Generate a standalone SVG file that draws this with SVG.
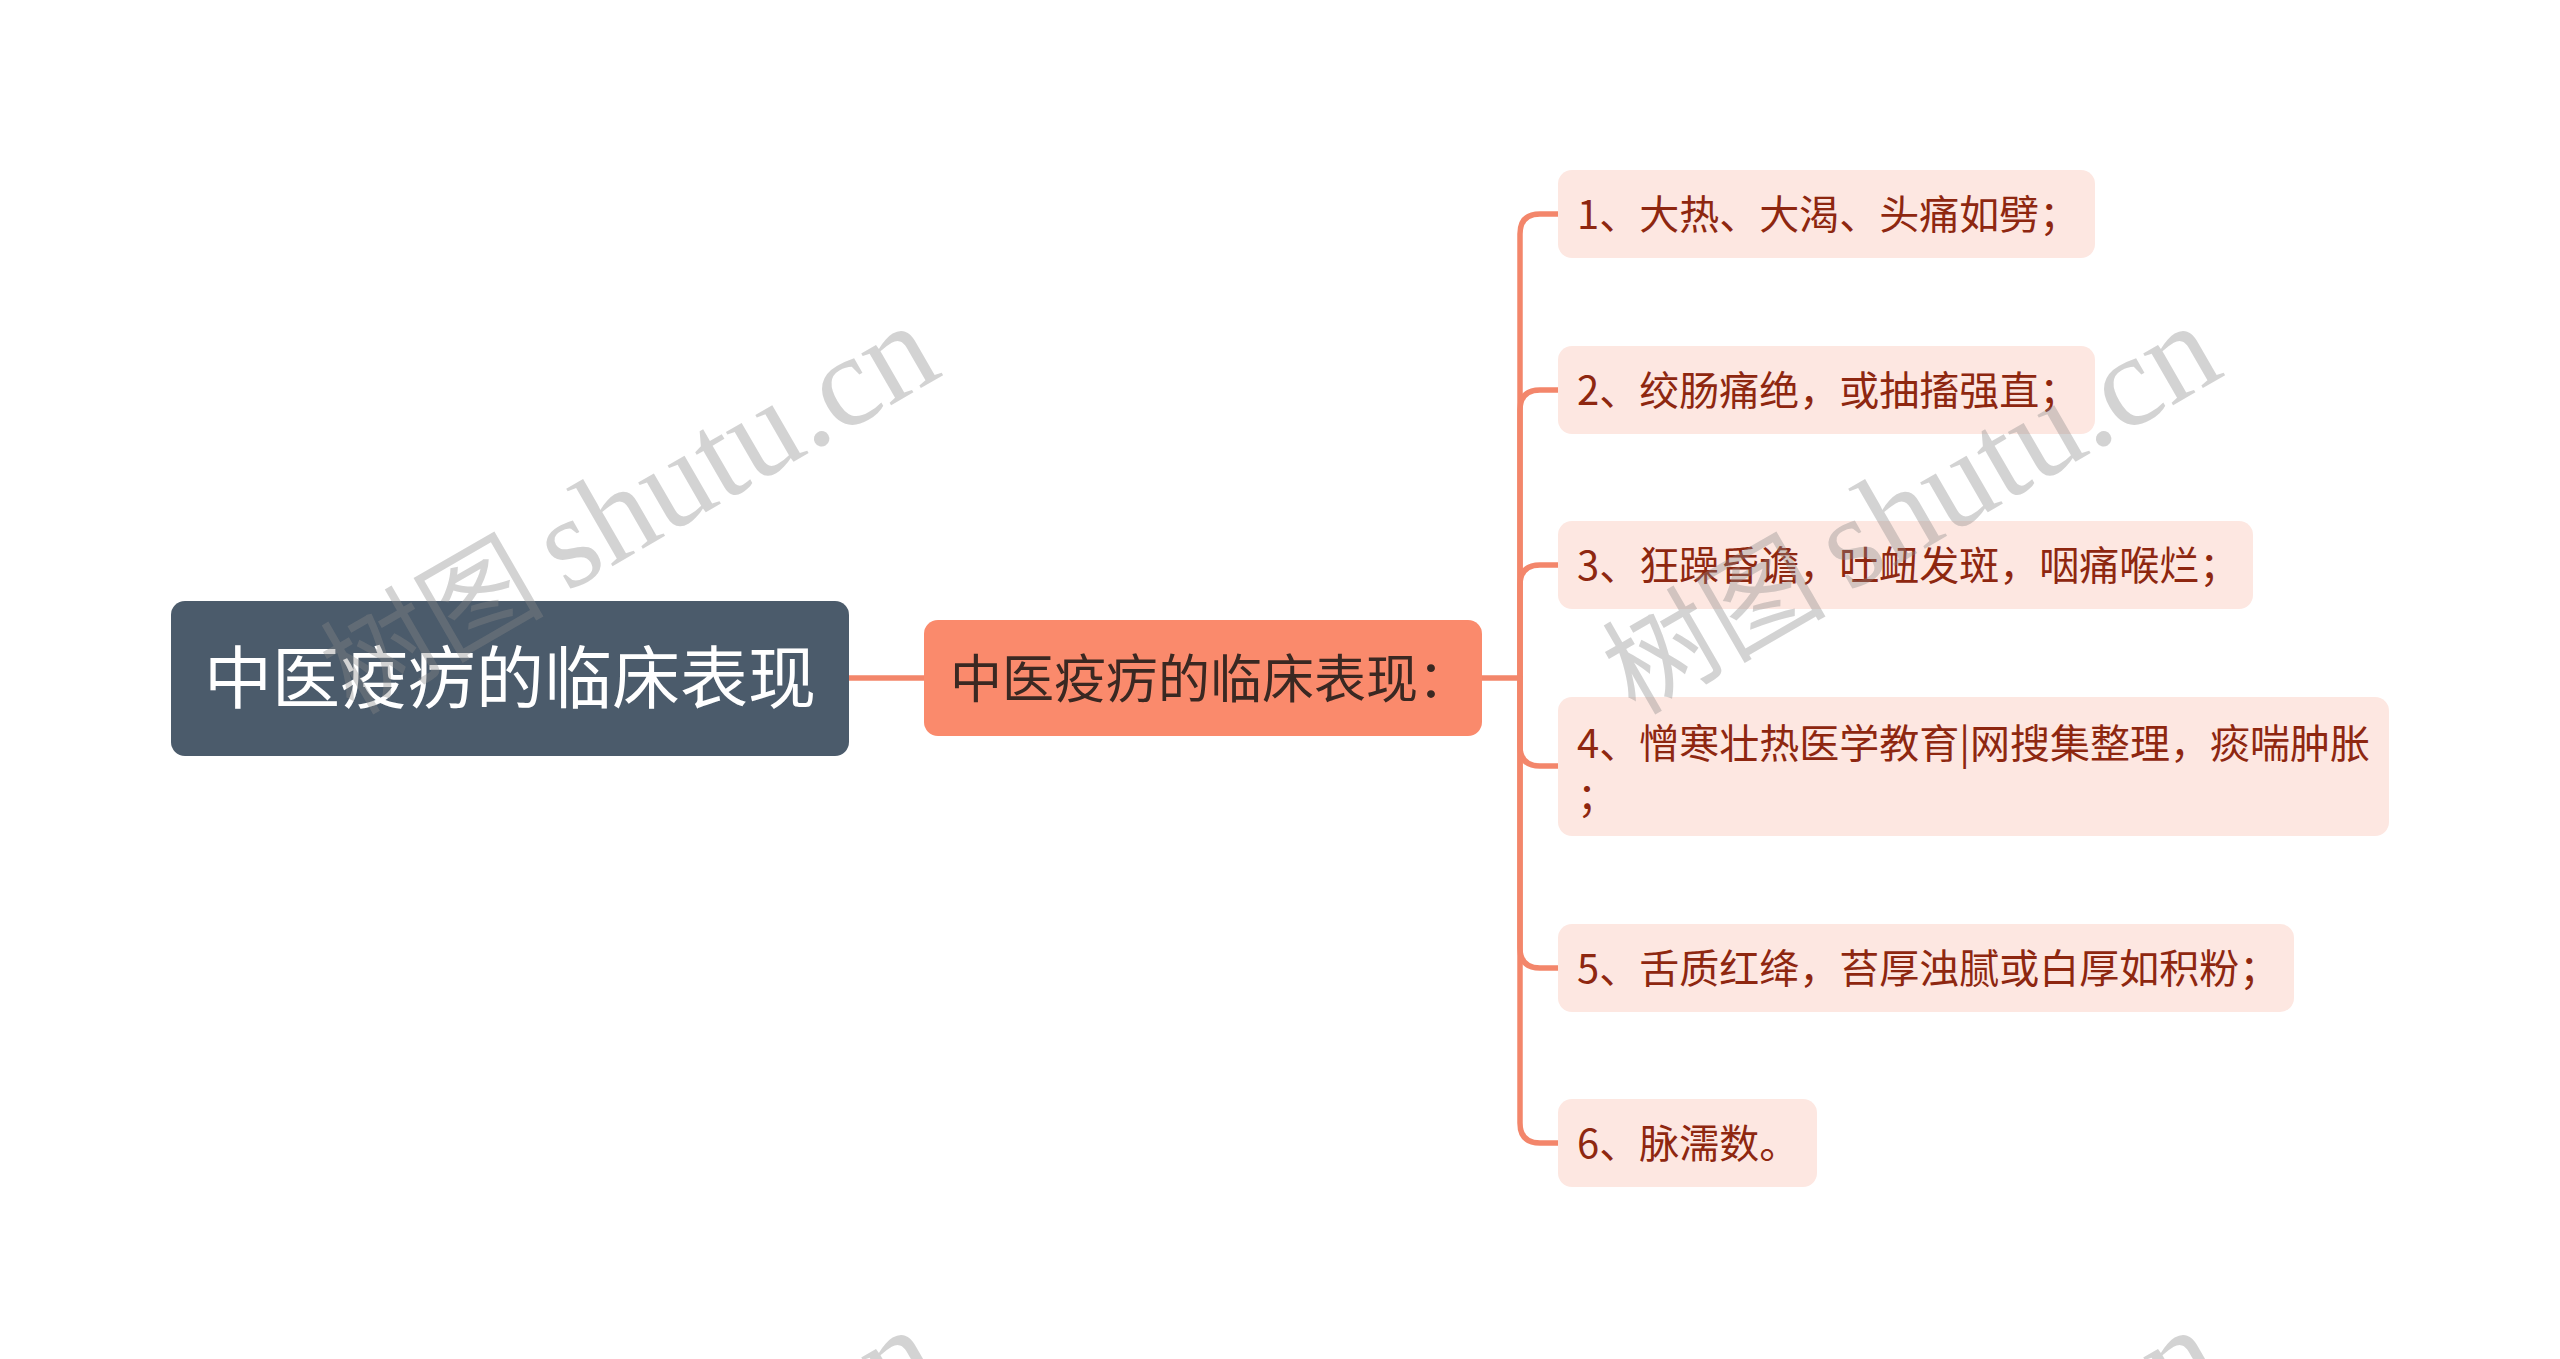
<svg xmlns="http://www.w3.org/2000/svg" width="2560" height="1359" viewBox="0 0 2560 1359">
<style>
.cjk{font-family:"Noto Sans CJK SC","Noto Sans",sans-serif}
.root-t{fill:#ffffff;font-size:68px}
.mid-t{fill:#3a2822;font-size:52px}
.leaf-r{fill:#fde7e1}
.leaf-t{fill:#8e2710;font-size:40px}
.conn{fill:none;stroke:#f3866b;stroke-width:5.5;stroke-linecap:round}
.wm{font-family:"Liberation Serif","Noto Sans CJK SC",serif;font-size:112px;fill:#878787;fill-opacity:0.37}
.wm tspan{font-size:130px}
</style>
<rect width="2560" height="1359" fill="#ffffff"/>
<g id="connectors">
<path class="conn" d="M849,678 H924"/>
<path class="conn" d="M1482,678 H1520"/>
<path class="conn" d="M1520,678 V234 Q1520,214 1540,214 H1558"/>
<path class="conn" d="M1520,678 V410 Q1520,390 1540,390 H1558"/>
<path class="conn" d="M1520,678 V585 Q1520,565 1540,565 H1558"/>
<path class="conn" d="M1520,678 V746 Q1520,766 1540,766 H1558"/>
<path class="conn" d="M1520,678 V948 Q1520,968 1540,968 H1558"/>
<path class="conn" d="M1520,678 V1123 Q1520,1143 1540,1143 H1558"/>
</g>
<g id="root">
<rect x="171" y="601" width="678" height="155" rx="14" fill="#4b5b6b"/>
<text class="cjk root-t" x="510" y="703" text-anchor="middle">中医疫疠的临床表现</text>
</g>
<g id="main">
<rect x="924" y="620" width="558" height="116" rx="14" fill="#fa8a6c"/>
<text class="cjk mid-t" x="950" y="698">中医疫疠的临床表现：</text>
</g>
<g id="leaf1">
<rect class="leaf-r" x="1558" y="170" width="537" height="88" rx="14"/>
<text class="cjk leaf-t" x="1577" y="229">1、大热、大渴、头痛如劈；</text>
</g>
<g id="leaf2">
<rect class="leaf-r" x="1558" y="346" width="537" height="88" rx="14"/>
<text class="cjk leaf-t" x="1577" y="405">2、绞肠痛绝，或抽搐强直；</text>
</g>
<g id="leaf3">
<rect class="leaf-r" x="1558" y="521" width="695" height="88" rx="14"/>
<text class="cjk leaf-t" x="1577" y="580">3、狂躁昏谵，吐衄发斑，咽痛喉烂；</text>
</g>
<g id="leaf4">
<rect class="leaf-r" x="1558" y="697" width="831" height="139" rx="14"/>
<text class="cjk leaf-t" x="1577" y="758">4、憎寒壮热医学教育|网搜集整理，痰喘肿胀</text>
<text class="cjk leaf-t" x="1577" y="811">；</text>
</g>
<g id="leaf5">
<rect class="leaf-r" x="1558" y="924" width="736" height="88" rx="14"/>
<text class="cjk leaf-t" x="1577" y="983">5、舌质红绛，苔厚浊腻或白厚如积粉；</text>
</g>
<g id="leaf6">
<rect class="leaf-r" x="1558" y="1099" width="259" height="88" rx="14"/>
<text class="cjk leaf-t" x="1577" y="1158">6、脉濡数。</text>
</g>
<g id="watermarks">
<text class="wm" transform="translate(353,716) rotate(-30)">树图<tspan dx="-10"> shutu.cn</tspan></text>
<text class="wm" transform="translate(1635,716) rotate(-30)">树图<tspan dx="-10"> shutu.cn</tspan></text>
<text class="wm" transform="translate(353,1720) rotate(-30)">树图<tspan dx="-10"> shutu.cn</tspan></text>
<text class="wm" transform="translate(1635,1720) rotate(-30)">树图<tspan dx="-10"> shutu.cn</tspan></text>
</g>
</svg>
